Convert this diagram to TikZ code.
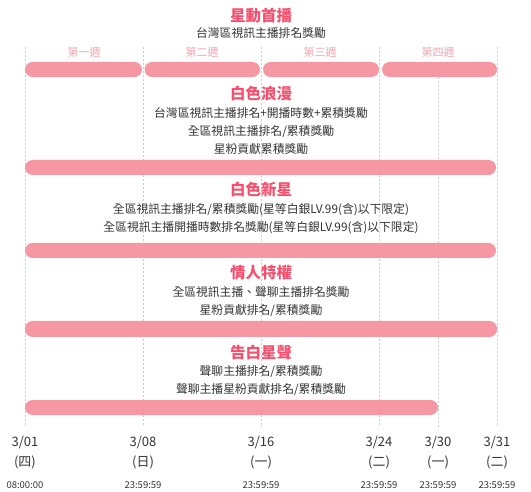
\documentclass[tikz,border=0pt]{standalone}
\usepackage{fontspec}
\setmainfont{Noto Sans CJK TC}
\usetikzlibrary{positioning}
\definecolor{barpink}{HTML}{F598A3}
\definecolor{titlered}{HTML}{F5516F}
\definecolor{weekpink}{HTML}{F4A0AC}
\definecolor{txtgray}{HTML}{333333}
\definecolor{gridgray}{HTML}{C8CDD2}

\begin{document}
\begin{tikzpicture}[x=1pt, y=-1pt,
  title/.style={font=\fontsize{15.5}{18}\selectfont\bfseries, text=titlered, inner sep=0pt},
  desc/.style={font=\fontsize{11.8}{18}\selectfont, text=txtgray, align=center, inner sep=0pt},
  week/.style={font=\fontsize{11}{13}\selectfont, text=weekpink, inner sep=0pt},
  bar/.style={fill=barpink, rounded corners=7.5pt},
  gridline/.style={draw=gridgray, dash pattern=on 2pt off 2pt, line width=0.6pt},
  datelbl/.style={font=\fontsize{13}{15}\selectfont, text=txtgray, inner sep=0pt},
  timelbl/.style={font=\fontsize{9.5}{11}\selectfont, text=txtgray, inner sep=0pt},
]
\useasboundingbox (0,0) rectangle (531,492);

% Grid lines
\foreach \x in {25,143,261,379,497}
  \draw[gridline] (\x,47) -- (\x,427);
\draw[gridline] (438,77) -- (438,427);

% Week 1: launch
\node[title] (t1) at (261,16) {星動首播};
\node[desc, below=4pt of t1] (d1) {台灣區視訊主播排名獎勵};
\foreach \c/\w [count=\i] in {84/第一週,202/第二週,320/第三週,438/第四週}
  \node[week] (w\i) at (\c,52) {\w};
\fill[bar] (25,62) rectangle (142,77);
\fill[bar] (144.5,62) rectangle (260,77);
\fill[bar] (263,62) rectangle (379,77);
\fill[bar] (382,62) rectangle (497,77);

% White romance
\node[title] (t2) at (261,94) {白色浪漫};
\node[desc] (d2) at (261,131) {台灣區視訊主播排名+開播時數+累積獎勵\\全區視訊主播排名/累積獎勵\\星粉貢獻累積獎勵};
\fill[bar] (25,160) rectangle (496,175);

% White new star
\node[title] (t3) at (261,190) {白色新星};
\node[desc] (d3) at (261,219) {全區視訊主播排名/累積獎勵(星等白銀LV.99(含)以下限定)\\全區視訊主播開播時數排名獎勵(星等白銀LV.99(含)以下限定)};
\fill[bar] (25,243) rectangle (496,258);

% Valentine privilege
\node[title] (t4) at (261,273) {情人特權};
\node[desc] (d4) at (261,302) {全區視訊主播、聲聊主播排名獎勵\\星粉貢獻排名/累積獎勵};
\fill[bar] (25,321) rectangle (497,337);

% Confession voice
\node[title] (t5) at (261,353) {告白星聲};
\node[desc] (d5) at (261,381) {聲聊主播排名/累積獎勵\\聲聊主播星粉貢獻排名/累積獎勵};
\fill[bar] (25,400) rectangle (438,415);

% Dates
\foreach \x/\d/\w/\t [count=\i] in {25/3\slash01/(四)/08:00:00, 143/3\slash08/(日)/23:59:59,
    261/3\slash16/(一)/23:59:59, 379/3\slash24/(二)/23:59:59,
    438/3\slash30/(一)/23:59:59, 497/3\slash31/(二)/23:59:59} {
  \node[datelbl] (date\i) at (\x,443) {\d};
  \node[datelbl] (day\i) at (\x,462) {\w};
  \node[timelbl] (time\i) at (\x,485) {\t};
}
\end{tikzpicture}
\end{document}
